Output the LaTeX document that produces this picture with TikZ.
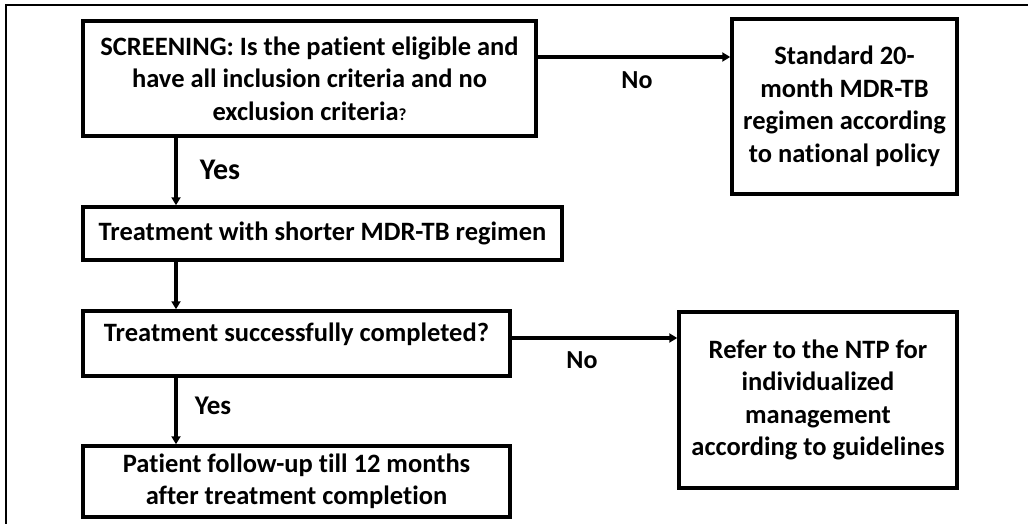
\documentclass[tikz,border=0pt]{standalone}
\usepackage{fontspec}
\setmainfont{Carlito}[Ligatures=NoCommon]
\usetikzlibrary{arrows.meta}

\begin{document}
\begin{tikzpicture}[x=1pt,y=-1pt,
    box/.style={draw, line width=3.5pt, align=center, inner sep=0pt,
      font=\fontsize{26.5}{32.5}\selectfont\bfseries},
    flow/.style={line width=3.2pt, -{Triangle[length=8pt,width=9pt]}},
    lbl/.style={font=\fontsize{26}{30}\selectfont\bfseries}]
  \useasboundingbox (0,0) rectangle (1028,524);
  \draw[line width=2pt] (6,524) -- (6,5) -- (1028,5);

  \node[box, minimum width=453pt, minimum height=115pt] (screen) at (309.5,78.5)
    {SCREENING: Is the patient eligible and\\have all inclusion criteria and no\\
     exclusion criteria{\fontsize{17}{17}\selectfont ?}};
  \node[box, minimum width=225pt, minimum height=175pt] (standard) at (844.5,106.5)
    {Standard 20-\\month MDR-TB\\regimen according\\to national policy};
  \node[box, minimum width=479pt, minimum height=53pt] (shorter) at (322.5,233.5)
    {Treatment with shorter MDR-TB regimen};
  \node[box, minimum width=427pt, minimum height=65pt, text depth=22pt] (success) at (296.5,343.5)
    {Treatment successfully completed?};
  \node[box, minimum width=278pt, minimum height=176pt] (refer) at (818,400)
    {Refer to the NTP for\\individualized\\management\\according to guidelines};
  \node[box, minimum width=427pt, minimum height=71pt] (followup) at (296.5,481.5)
    {Patient follow-up till 12 months\\after treatment completion};

  \coordinate (spine) at (176,0);
  \coordinate (rowa) at (0,57);
  \coordinate (rowb) at (0,338);

  \draw[flow] (screen.south -| spine) -- (shorter.north -| spine);
  \draw[flow] (shorter.south -| spine) -- (success.north -| spine);
  \draw[flow] (success.south -| spine) -- (followup.north -| spine);
  \draw[flow] (screen.east |- rowa) -- (standard.west |- rowa);
  \draw[flow] (success.east |- rowb) -- (refer.west |- rowb);

  \node[lbl, font=\fontsize{30}{32}\selectfont\bfseries] (yesa) at (220,170) {Yes};
  \node[lbl, font=\fontsize{27}{30}\selectfont\bfseries] (yesb) at (213,406) {Yes};
  \node[lbl] (noa) at (637,80) {No};
  \node[lbl] (nob) at (582,360) {No};
\end{tikzpicture}
\end{document}
